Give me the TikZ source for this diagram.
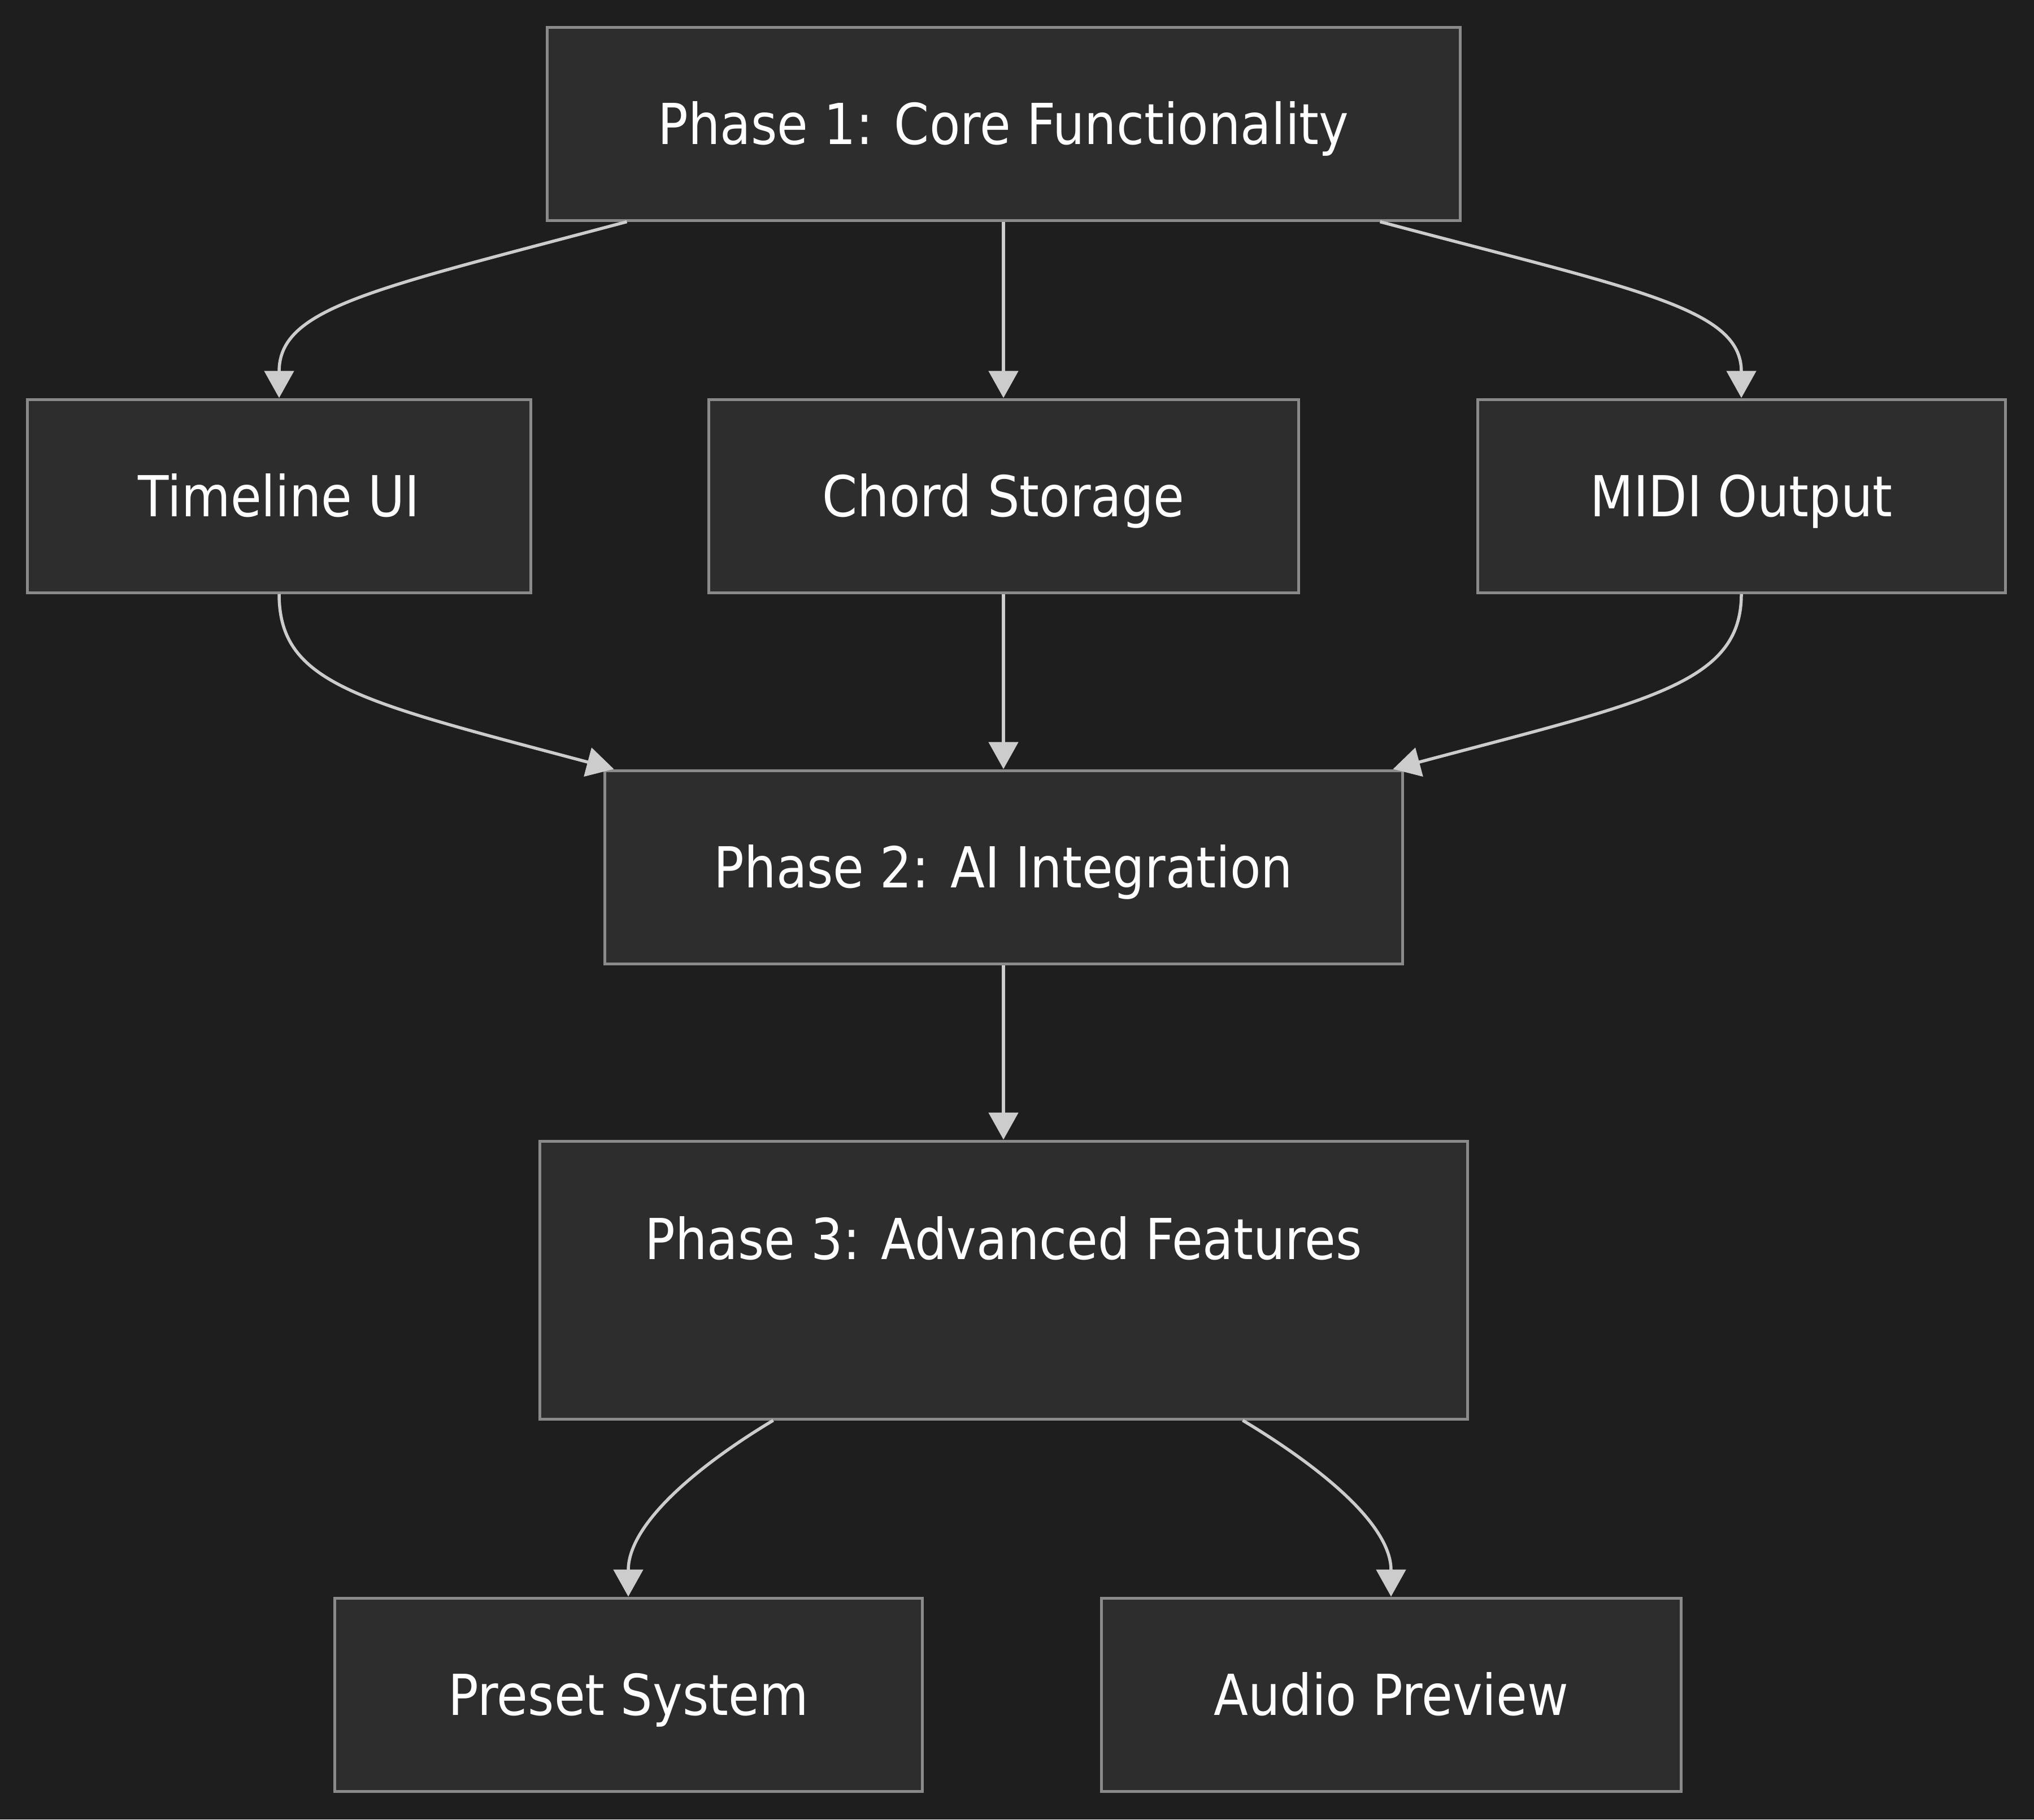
\documentclass[tikz,border=0pt]{standalone}
\usepackage{fontspec}
\setmainfont{DejaVu Sans}[FakeStretch=0.89]
\usetikzlibrary{arrows.meta, calc}

\definecolor{canvasbg}{HTML}{1E1E1E}
\definecolor{boxfill}{HTML}{2D2D2D}
\definecolor{boxline}{HTML}{8A8A8A}
\definecolor{flowgray}{HTML}{CCCCCC}

\tikzset{
    phasebox/.style={draw=boxline, line width=0.05cm, fill=boxfill, text=white, rectangle,
        font=\fontsize{28.45}{34}\selectfont, minimum height=3.42cm, inner sep=0pt,
        text height=0.73cm, text depth=0cm},
    flowline/.style={draw=flowgray, line width=0.055cm, -{Triangle[length=4.8mm, width=5.2mm]}}
}

\begin{document}
\begin{tikzpicture}
\fill[canvasbg] (0,0) rectangle (36,-32.21);
\useasboundingbox (0,0) rectangle (36,-32.21);

\node[phasebox, minimum width=16.16cm] (phaseone) at (17.76,-2.19) {Phase 1: Core Functionality};
\node[phasebox, minimum width=8.91cm] (timeline) at (4.94,-8.78) {Timeline UI};
\node[phasebox, minimum width=10.44cm] (chordstore) at (17.76,-8.78) {Chord Storage};
\node[phasebox, minimum width=9.34cm] (midiout) at (30.82,-8.78) {MIDI Output};
\node[phasebox, minimum width=14.12cm] (phasetwo) at (17.76,-15.35) {Phase 2: AI Integration};
\node[phasebox, minimum width=16.42cm, minimum height=4.92cm, text depth=1.47cm] (phasethree) at (17.76,-22.66) {Phase 3: Advanced Features};
\node[phasebox, minimum width=10.40cm] (preset) at (11.12,-30.00) {Preset System};
\node[phasebox, minimum width=10.26cm] (audioprev) at (24.62,-30.00) {Audio Preview};

\draw[flowline] ($(phaseone.south west)+(1.44,0)$) .. controls +(-4.5,-1.2) and +(0,1.6) .. (timeline.north);
\draw[flowline] (phaseone.south) -- (chordstore.north);
\draw[flowline] ($(phaseone.south east)+(-1.44,0)$) .. controls +(4.5,-1.2) and +(0,1.6) .. (midiout.north);

\draw[flowline] (timeline.south) .. controls +(0,-1.6) and +(-4.5,1.2) .. ($(phasetwo.north west)+(0.19,0)$);
\draw[flowline] (chordstore.south) -- (phasetwo.north);
\draw[flowline] (midiout.south) .. controls +(0,-1.6) and +(4.5,1.2) .. ($(phasetwo.north east)+(-0.19,0)$);

\draw[flowline] (phasetwo.south) -- (phasethree.north);

\draw[flowline] ($(phasethree.south west)+(4.16,0)$) .. controls +(-1.3,-0.78) and +(0,1.3) .. (preset.north);
\draw[flowline] ($(phasethree.south east)+(-4.0,0)$) .. controls +(1.3,-0.78) and +(0,1.3) .. (audioprev.north);

\end{tikzpicture}
\end{document}
